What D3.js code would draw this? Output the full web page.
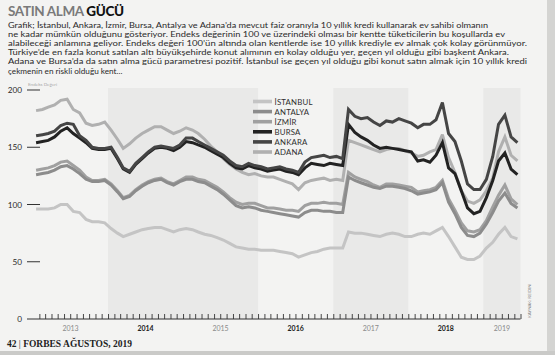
<!DOCTYPE html>
<html><head><meta charset="utf-8">
<script src="https://cdn.jsdelivr.net/npm/d3@7"></script>
<style>html,body{margin:0;padding:0;background:#f3f3f2;} svg{display:block;}</style>
</head><body><svg id="c" width="555" height="355"></svg>
<script>
// ---- data ----
const cities = ["İSTANBUL", "ANTALYA", "İZMİR", "BURSA", "ANKARA", "ADANA"];
const istanbul = [96,96,96,97,100,100,94,93,87,85,85,84, 79,75,72,74,76,78,79,80,80,78,76,78, 79,78,76,74,73,71,69,66,63,62,61,61, 60,60,60,59,58,57,54,56,58,59,61,62, 62,62,76,75,75,74,73,72,74,75,74,72, 72,74,75,74,77,80,72,63,54,52,52,55, 62,67,74,80,72,70];
const antalya = [126,127,128,130,133,134,131,127,122,120,120,121, 117,111,105,107,112,116,119,121,122,119,117,120, 122,122,120,119,116,113,109,104,99,97,98,97, 95,94,93,92,91,90,89,93,95,95,94,94, 93,93,124,121,119,117,115,114,116,116,115,114, 112,109,110,111,113,119,102,92,80,73,72,75, 83,93,103,110,101,97];
const izmir = [130,131,132,134,137,138,134,130,124,121,121,122, 118,112,106,108,113,117,120,122,123,120,118,121, 124,124,122,121,118,115,111,106,102,100,101,101, 99,97,97,96,95,95,94,99,101,101,102,101, 101,100,128,124,122,120,117,115,118,118,117,116, 115,111,112,113,115,121,105,95,84,77,76,78, 86,98,108,117,105,100];
const bursa = [154,155,156,159,164,167,162,158,154,149,148,148, 149,140,131,128,135,140,145,149,150,149,147,150, 155,154,152,150,147,144,141,136,132,131,134,132, 131,129,130,131,129,128,126,132,136,135,134,136, 135,134,170,163,159,156,152,149,150,149,148,147, 146,138,139,137,143,154,132,127,112,97,92,94, 106,121,138,145,131,126];
const ankara = [160,161,162,164,169,171,170,160,156,150,149,149, 150,141,132,129,136,141,146,150,151,150,149,152, 158,158,155,152,149,146,143,138,134,133,136,134, 133,131,132,133,131,130,128,137,141,142,143,141, 142,140,183,177,175,176,172,169,173,172,175,173, 171,167,170,170,174,189,162,155,138,118,113,113, 122,142,170,178,159,154];
const adana = [182,183,185,187,191,192,183,180,171,169,170,172, 165,157,149,153,158,162,165,168,168,165,162,164, 167,165,162,157,151,146,140,135,131,128,126,127, 125,124,124,122,120,118,113,119,121,122,123,121, 122,121,156,154,152,150,148,146,148,149,149,147, 145,142,143,146,148,161,141,128,112,103,101,104, 112,123,146,159,143,138];
const yTicks = [0, 50, 100, 150, 200];
const years = ["2013", "2014", "2015", "2016", "2017", "2018", "2019"];
const shadedPeriods = [["2014-01-01", "2016-01-01"], ["2017-01-01", "2018-01-01"], ["2019-01-01", "2019-07-01"]];
const paragraph = [
  "Grafik; İstanbul, Ankara, İzmir, Bursa, Antalya ve Adana’da mevcut faiz oranıyla 10 yıllık kredi kullanarak ev sahibi olmanın",
  "ne kadar mümkün olduğunu gösteriyor. Endeks değerinin 100 ve üzerindeki olması bir kentte tüketicilerin bu koşullarda ev",
  "alabileceği anlamına geliyor. Endeks değeri 100’ün altında olan kentlerde ise 10 yıllık krediyle ev almak çok kolay görünmüyor.",
  "Türkiye’de en fazla konut satılan altı büyükşehirde konut alımının en kolay olduğu yer, geçen yıl olduğu gibi başkent Ankara.",
  "Adana ve Bursa’da da satın alma gücü parametresi pozitif. İstanbul ise geçen yıl olduğu gibi konut satın almak için 10 yıllık kredi",
  "çekmenin en riskli olduğu kent..."
];

// ---- styles ----
const seriesValues = {"İSTANBUL": istanbul, "ANTALYA": antalya, "İZMİR": izmir, "BURSA": bursa, "ANKARA": ankara, "ADANA": adana};
const colors = {"İSTANBUL": "#c4c4c4", "ANTALYA": "#8c8c8c", "İZMİR": "#a0a0a0", "BURSA": "#222222", "ANKARA": "#454545", "ADANA": "#b0b0b0"};
const drawOrder = ["İSTANBUL", "ADANA", "İZMİR", "ANTALYA", "BURSA", "ANKARA"];
const paraEnds = [488, 505, 527, 509, 527, null];

const svg = d3.select("#c");
const FONT = "Lato, 'Open Sans', sans-serif";
const start = new Date(2013, 0, 1), end = new Date(2019, 6, 1);
const months = d3.timeMonth.range(start, end).map(d => new Date(d.getFullYear(), d.getMonth(), 16));
const x = d3.scaleTime().domain([start, end]).range([33, 520.5]);
const y = d3.scaleLinear().domain([0, 200]).range([319, 90]);

// page edge
svg.append("rect").attr("x", 547).attr("y", 0).attr("width", 8).attr("height", 355).attr("fill", "#d4d4d2");
svg.append("rect").attr("x", 0).attr("y", 351).attr("width", 555).attr("height", 4).attr("fill", "#cacac8");

// title
const t = svg.append("text").attr("x", 8).attr("y", 15.5).attr("font-family", "Lato, 'Open Sans', sans-serif").attr("font-size", 13.5).attr("font-weight", 700)
  .attr("textLength", 116).attr("lengthAdjust", "spacing");
t.append("tspan").attr("fill", "#7a7a7a").text("SATIN ALMA ");
t.append("tspan").attr("fill", "#111").attr("font-weight", 900).text("GÜCÜ");

// paragraph
svg.append("g").selectAll("text").data(paragraph).join("text")
  .attr("x", 8).attr("y", (d, i) => 27.5 + i * 9.2)
  .attr("font-family", FONT).attr("font-size", 8.2).attr("fill", "#2a2a2a")
  .each(function(d, i) { if (paraEnds[i]) d3.select(this).attr("textLength", paraEnds[i] - 8).attr("lengthAdjust", "spacingAndGlyphs"); })
  .text(d => d);

// shaded bands
svg.append("g").selectAll("rect").data(shadedPeriods).join("rect")
  .attr("x", d => x(new Date(d[0]))).attr("width", d => x(new Date(d[1])) - x(new Date(d[0])))
  .attr("y", 88).attr("height", 319 - 88).attr("fill", "#e9e9e8");

// y axis label
svg.append("text").attr("x", 28).attr("y", 85.5).attr("font-family", FONT).attr("font-size", 4.6).attr("fill", "#a8a8a8").text("Endeks Değeri");

// y ticks
const yg = svg.append("g");
yg.selectAll("line").data(yTicks.filter(v => v > 0)).join("line")
  .attr("x1", 27).attr("x2", 40).attr("y1", d => y(d)).attr("y2", d => y(d)).attr("stroke", "#333").attr("stroke-width", 1);
yg.selectAll("text").data(yTicks).join("text")
  .attr("x", 22).attr("y", d => y(d) + 3).attr("text-anchor", "end")
  .attr("font-family", FONT).attr("font-size", 8.2).attr("fill", "#2a2a2a").text(d => d);

// x axis
const xAxis = d3.axisBottom(x).ticks(d3.timeMonth.every(1)).tickSize(-5).tickFormat("");
const xg = svg.append("g").attr("transform", "translate(0,319)").call(xAxis);
xg.select(".domain").remove();
xg.selectAll(".tick line").attr("stroke", "#333").attr("stroke-width", 0.9);
xg.selectAll(".tick").filter(d => +d === +start).remove();
svg.append("line").attr("x1", 27).attr("x2", x(end)).attr("y1", 319).attr("y2", 319).attr("stroke", "#333").attr("stroke-width", 1.2);

// year labels
svg.append("g").selectAll("text").data(years).join("text")
  .attr("x", d => { const a = new Date(+d, 0, 1); const b = d3.min([new Date(+d + 1, 0, 1), end]); return (x(a) + x(b)) / 2; })
  .attr("y", 331).attr("text-anchor", "middle").attr("font-family", FONT).attr("font-size", 7)
  .attr("font-weight", (d, i) => i % 2 ? 700 : 400).attr("fill", (d, i) => i % 2 ? "#222" : "#8a8a8a").text(d => d);

// lines
const line = d3.line().x((d, i) => x(months[i])).y(d => y(d)).curve(d3.curveLinear);
svg.append("g").selectAll("path").data(drawOrder).join("path")
  .attr("d", c => line(seriesValues[c])).attr("fill", "none").attr("stroke", c => colors[c])
  .attr("stroke-width", 3).attr("stroke-linejoin", "miter").attr("stroke-miterlimit", 3);

// legend
const lg = svg.append("g").selectAll("g").data(cities).join("g")
  .attr("transform", (d, i) => `translate(253,${101.5 + i * 10.1})`);
lg.append("line").attr("x1", 0).attr("x2", 19).attr("stroke", d => colors[d]).attr("stroke-width", 3.6);
lg.append("text").attr("x", 21.5).attr("y", 3).attr("font-family", FONT).attr("font-size", 7.8).attr("font-weight", 400)
  .attr("letter-spacing", 0.2).attr("fill", "#2e2e2e").text(d => d);

// source
svg.append("text").attr("transform", "translate(531,318) rotate(-90)").attr("font-family", FONT).attr("font-size", 4.3)
  .attr("fill", "#777").text("KAYNAK: REIDIN");

// footer
const f = svg.append("text").attr("x", 7).attr("y", 347).attr("font-family", "'Liberation Serif', 'DejaVu Serif', serif")
  .attr("font-size", 9.5).attr("font-weight", 700).attr("fill", "#222").attr("textLength", 125).attr("lengthAdjust", "spacingAndGlyphs");
f.append("tspan").text("42 ");
f.append("tspan").attr("font-weight", 400).text("| ");
f.append("tspan").text("FORBES ");
f.append("tspan").text(" AĞUSTOS, 2019");
</script></body></html>
